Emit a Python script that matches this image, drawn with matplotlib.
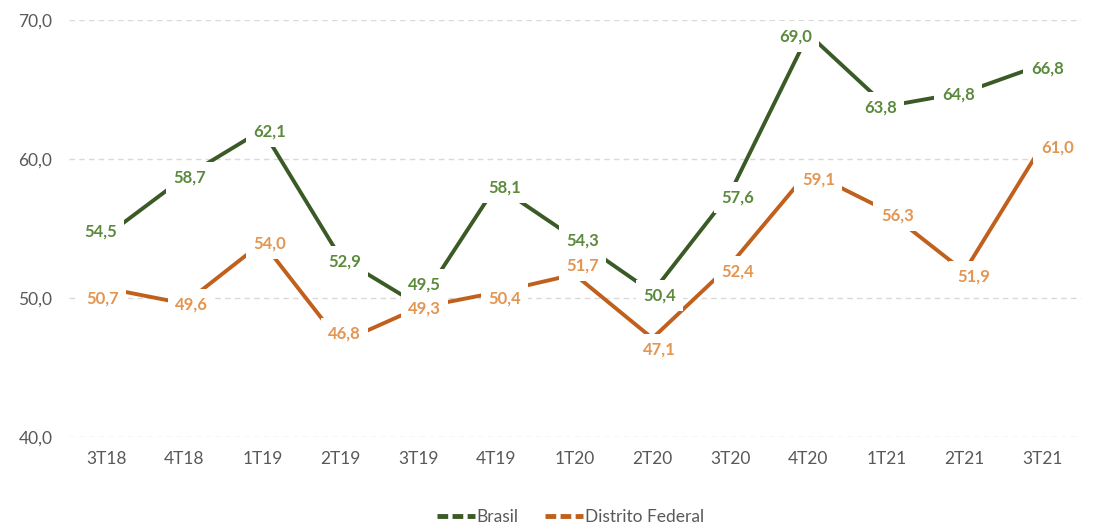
import numpy as np
import matplotlib.pyplot as plt
from matplotlib.lines import Line2D

plt.rcParams['font.family'] = ['Lato', 'DejaVu Sans']

trimestres = ['3T18', '4T18', '1T19', '2T19', '3T19', '4T19', '1T20', '2T20',
              '3T20', '4T20', '1T21', '2T21', '3T21']
brasil = [54.5, 58.7, 62.1, 52.9, 49.5, 58.1, 54.3, 50.4, 57.6, 69.0, 63.8, 64.8, 66.8]
distrito_federal = [50.7, 49.6, 54.0, 46.8, 49.3, 50.4, 51.7, 47.1, 52.4, 59.1, 56.3, 51.9, 61.0]

# deslocamento dos rótulos (pixels) para não se sobreporem
desl_br = [(-6, 4), (5, 0), (7, -2), (4, -4), (6, 20), (8, -2), (8, -2), (7, -3),
           (7, -5), (-13, -3), (-6, -1), (-6, -2), (5, -4)]
desl_df = [(-4, -10), (7, -1), (7, -1), (4, 9), (6, -1), (8, -6), (8, 9), (7, -11),
           (7, -7), (10, -8), (11, -5), (9, -5), (15, -2)]

cor_br_linha, cor_br_texto = '#3b5b26', '#5b8a3c'
cor_df_linha, cor_df_texto = '#c0601c', '#e39552'

fig = plt.figure(figsize=(10.97, 5.29), dpi=100)
ax = fig.add_axes([0.063, 0.174, 0.922, 0.788])

x = np.arange(len(trimestres))
ax.plot(x, brasil, color=cor_br_linha, lw=2.8, solid_capstyle='butt', zorder=2)
ax.plot(x, distrito_federal, color=cor_df_linha, lw=2.8, solid_capstyle='butt', zorder=2)

def rotular(valores, desl, cor):
    for xi, v, (dx, dy) in zip(x, valores, desl):
        ax.annotate(f'{v:.1f}'.replace('.', ','), (xi, v), xytext=(dx, dy),
                    textcoords='offset pixels', ha='center', va='center',
                    fontsize=12, fontweight='bold', color=cor, zorder=3,
                    bbox=dict(boxstyle='square,pad=0.45', fc='white', ec='none'))

rotular(brasil, desl_br, cor_br_texto)
rotular(distrito_federal, desl_df, cor_df_texto)

ax.set_xlim(-0.48, 12.49)
ax.set_ylim(40, 70)
ax.set_yticks([40, 50, 60, 70])
ax.set_yticklabels(['40,0', '50,0', '60,0', '70,0'])
ax.set_xticks(x)
ax.set_xticklabels(trimestres)
ax.tick_params(length=0, labelsize=12.5, colors='#595959', pad=10)
ax.tick_params(axis='y', pad=12)
ax.yaxis.grid(True, color='#d9d9d9', lw=1, ls=(0, (4, 3)))
ax.set_axisbelow(True)
for s in ax.spines.values():
    s.set_visible(False)

alcas = [Line2D([], [], color=cor_br_linha, lw=3.5, ls=(0, (2.2, 0.9))),
         Line2D([], [], color=cor_df_linha, lw=3.5, ls=(0, (2.2, 0.9)))]
fig.legend(alcas, ['Brasil', 'Distrito Federal'], loc='center', bbox_to_anchor=(0.52, 0.022),
           ncol=2, frameon=False, fontsize=12.5, labelcolor='#595959',
           handlelength=2.2, handletextpad=0.1, columnspacing=1.5)

fig.savefig('out.png', dpi=100)
